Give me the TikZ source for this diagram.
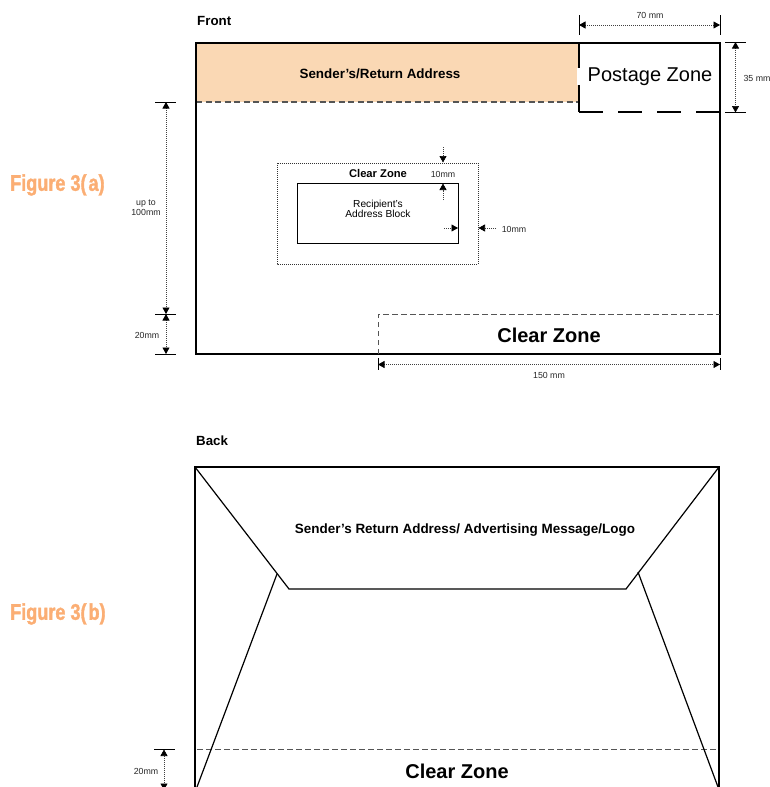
\documentclass[tikz,border=0pt]{standalone}
\usepackage{fontspec}
\setmainfont{Liberation Sans}
\newfontfamily\figfont[FakeStretch=0.8,FakeBold=1.5]{Liberation Sans Bold}
\usetikzlibrary{arrows.meta}
\definecolor{flapfill}{HTML}{FAD8B4}
\definecolor{figorange}{HTML}{FBAE74}
\definecolor{dashgrey}{HTML}{555555}
\tikzset{
  px/.style={x=1pt,y=-1pt},
  outline/.style={draw=black,line width=1.3pt,line join=miter},
  thin outline/.style={draw=black,line width=.9pt},
  dashline/.style={draw=dashgrey,line width=1.1pt,dash pattern=on 6pt off 3.5pt},
  lightdash/.style={draw=dashgrey,line width=.85pt,dash pattern=on 5.5pt off 3.5pt},
  zoneline/.style={draw=black,line width=1.3pt,dash pattern=on 24pt off 15pt},
  tick/.style={draw=black,line width=1pt},
  dim/.style={draw=black!75,line width=.7pt,dash pattern=on 1pt off 1pt,
    {Triangle[length=6.5pt,width=7pt,black]}-{Triangle[length=6.5pt,width=7pt,black]}},
  dimend/.style={draw=black!75,line width=.7pt,dash pattern=on 1pt off 1pt,
    -{Triangle[length=6.5pt,width=7pt,black]}},
  small/.style={font=\fontsize{8.8}{10}\selectfont,align=center,text=black!85,inner sep=0pt},
  side/.style={font=\bfseries\fontsize{13.3}{15}\selectfont,anchor=west,inner sep=0pt},
  boldlabel/.style={font=\bfseries\fontsize{#1}{#1}\selectfont,inner sep=0pt},
  figlabel/.style={font=\figfont\fontsize{22.6}{25}\selectfont,text=figorange,anchor=west,inner sep=0pt},
}
\begin{document}
\begin{tikzpicture}[px]
\useasboundingbox (0,0) rectangle (770,787);
\clip (0,0) rectangle (770,787);
% ---------- coordinates: front
\coordinate (ftl) at (196,43);
\coordinate (ftr) at (720,43);
\coordinate (fbl) at (196,354);
\coordinate (fbr) at (720,354);
\coordinate (st) at (579,43);
\coordinate (sm) at (579,102);
\coordinate (sb) at (579,112);
\coordinate (sr) at (720,112);
\coordinate (fl) at (196,102);
% sender's band
\fill[flapfill] (ftl) rectangle (sm);
\fill[white] (577,68) rectangle (582,85);
\draw[dashline] (fl) -- (sm);
\draw[outline] (st) -- (579,68);
\draw[outline] (579,85) -- (sb);
\draw[zoneline] (sb) -- (sr);
\draw[outline] (fl) -- (ftl) -- (ftr) -- (fbr) -- (fbl) -- (fl);
% lower clear zone
\coordinate (cz1) at (378,354);
\coordinate (cz2) at (378,314);
\coordinate (cz3) at (720,314);
\draw[lightdash] (cz1) -- (cz2) -- (cz3);
% inner boxes
\draw[black!80,line width=.8pt,dash pattern=on 1pt off 1pt] (277,163) rectangle (478,264);
\draw[thin outline] (297,183) rectangle (458,243);
% texts front
\node[side] (front) at (197,21) {Front};
\node[boldlabel=13.4] (senderf) at (380,74) {Sender’s/Return Address};
\node[font=\fontsize{20}{22}\selectfont,inner sep=0pt] (postage) at (650,77) {Postage Zone};
\node[boldlabel=20] (czbig) at (549,335) {Clear Zone};
\node[boldlabel=11.2] (czsmall) at (378,173.5) {Clear Zone};
\node[font=\fontsize{10.2}{10.5}\selectfont,align=center,inner sep=0pt] (recip) at (378,209) {Recipient's\\Address Block};
\node[small] (t10a) at (443,174.5) {10mm};
\node[small] (t10b) at (514,229) {10mm};
\node[small] (t70) at (650,15.5) {70 mm};
\node[small] (t35) at (757,78) {35 mm};
\node[small] (t100) at (146,208) {up to\\100mm};
\node[small] (t20) at (147,335) {20mm};
\node[small] (t150) at (549,375) {150 mm};
\node[figlabel] (figa) at (10,185) {Figure 3(\kern2pt a)};
\node[figlabel] (figb) at (10,614) {Figure 3(\kern2pt b)};
% dimension 70
\coordinate (d70a) at (579,25); \coordinate (d70b) at (720,25);
\draw[tick] (579,15) -- (579,35);
\draw[tick] (720,15) -- (720,35);
\draw[dim] (d70a) -- (d70b);
% dimension 35
\coordinate (d35a) at (735.5,42); \coordinate (d35b) at (735.5,112.5);
\draw[tick] (725,42) -- (746,42);
\draw[tick] (725,112.5) -- (746,112.5);
\draw[dim] (d35a) -- (d35b);
% dimension up to 100
\coordinate (d100a) at (166,102); \coordinate (d100b) at (166,314); \coordinate (d20b) at (166,354);
\draw[tick] (155,102) -- (176,102);
\draw[tick] (155,314) -- (176,314);
\draw[tick] (155,354) -- (176,354);
\draw[dim] (d100a) -- (d100b);
\draw[dim] (d100b) -- (d20b);
% dimension 150
\coordinate (d150a) at (378,364.5); \coordinate (d150b) at (720,364.5);
\draw[tick] (378,358) -- (378,370);
\draw[tick] (720,358) -- (720,370);
\draw[dim] (d150a) -- (d150b);
% inner 10 mm arrows
\coordinate (i1a) at (443,147); \coordinate (i1b) at (443,162.5);
\coordinate (i2a) at (443,200); \coordinate (i2b) at (443,183.5);
\coordinate (i3a) at (444,228); \coordinate (i3b) at (458,228);
\coordinate (i4a) at (496,228); \coordinate (i4b) at (478.5,228);
\draw[dimend] (i1a) -- (i1b);
\draw[dimend] (i2a) -- (i2b);
\draw[dimend] (i3a) -- (i3b);
\draw[dimend] (i4a) -- (i4b);
% ---------- back
\coordinate (btl) at (195,467);
\coordinate (btr) at (719,467);
\coordinate (bbl) at (195,787);
\coordinate (bbr) at (719,787);
\coordinate (fl1) at (289,589);
\coordinate (fl2) at (626,589);
\coordinate (lf1) at (277,574);
\coordinate (lf1b) at (197,787);
\coordinate (lf2) at (638,572);
\coordinate (lf2b) at (718,787);
\coordinate (bd1) at (197,749.5);
\coordinate (bd2) at (719,749.5);
\draw[lightdash] (bd1) -- (bd2);
\draw[outline] (bbl) -- (btl) -- (btr) -- (bbr);
\draw[outline,line width=1.2pt] (btl) -- (fl1) -- (fl2) -- (btr);
\draw[outline,line width=1.2pt] (lf1) -- (lf1b);
\draw[outline,line width=1.2pt] (lf2) -- (lf2b);
\node[side] (back) at (196,441) {Back};
\node[boldlabel=13.45] (senderb) at (465,530) {Sender’s Return Address/ Advertising Message/Logo};
\node[boldlabel=20] (czback) at (457,771) {Clear Zone};
\node[small] (t20b) at (146,771) {20mm};
\coordinate (d20ca) at (164,749.5); \coordinate (d20cb) at (164,790);
\draw[tick] (154,749.5) -- (175,749.5);
\draw[dim] (d20ca) -- (d20cb);
\end{tikzpicture}
\end{document}
